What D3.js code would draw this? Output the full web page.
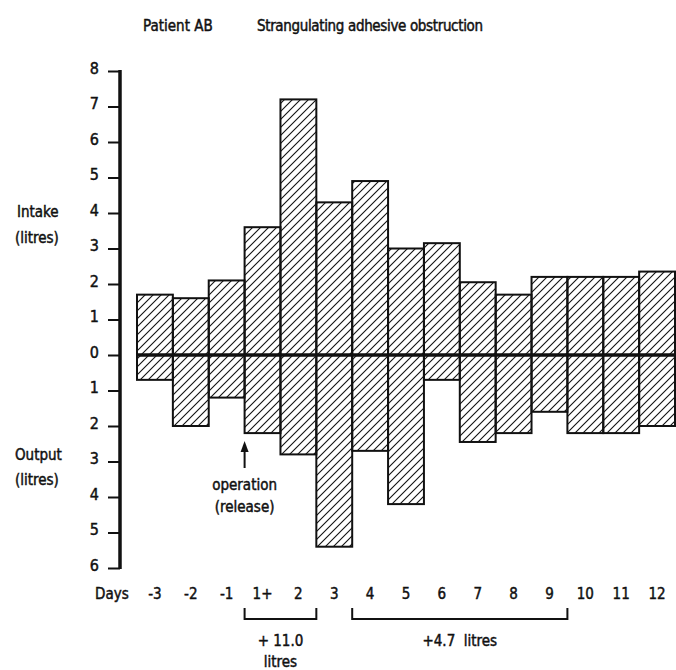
<!DOCTYPE html>
<html>
<head>
<meta charset="utf-8">
<script src="https://cdn.jsdelivr.net/npm/d3@7"></script>
<style>
  body { margin: 0; background: #fff; }
  svg text { font-family: "DejaVu Sans Condensed", "Liberation Sans Narrow", sans-serif; font-size: 15px; fill: #111; stroke: #111; stroke-width: 0.45px; }
</style>
</head>
<body>
<svg id="chart" width="676" height="670"></svg>
<script>
const days = ["-3", "-2", "-1", "1+", "2", "3", "4", "5", "6", "7", "8", "9", "10", "11", "12"];
const intake = [1.7, 1.6, 2.1, 3.6, 7.2, 4.3, 4.9, 3.0, 3.15, 2.05, 1.7, 2.2, 2.2, 2.2, 2.35];
const output = [0.7, 2.0, 1.2, 2.2, 2.8, 5.4, 2.7, 4.2, 0.7, 2.45, 2.2, 1.6, 2.2, 2.2, 2.0];
const yTicks = [-6, -5, -4, -3, -2, -1, 0, 1, 2, 3, 4, 5, 6, 7, 8];
const balances = [
  { from: "1+", to: "2", lines: ["+ 11.0", "litres"] },
  { from: "4", to: "9", lines: ["+4.7  litres"] }
];

const svg = d3.select("#chart");

const x = d3.scaleBand()
  .domain(days)
  .range([137, 675])
  .padding(0);

const y = d3.scaleLinear()
  .domain([-6, 8])
  .range([568, 71]);

// hatch pattern
const pat = svg.append("defs").append("pattern")
  .attr("id", "hatch")
  .attr("patternUnits", "userSpaceOnUse")
  .attr("width", 8)
  .attr("height", 8);
pat.append("path")
  .attr("d", "M-2,2 L2,-2 M0,8 L8,0 M6,10 L10,6")
  .attr("stroke", "#111")
  .attr("stroke-width", 1.1);

// intake bars
svg.selectAll(".intake")
  .data(days)
  .enter()
  .append("rect")
  .attr("class", "intake")
  .attr("x", d => x(d))
  .attr("y", (d, i) => y(intake[i]))
  .attr("width", x.bandwidth())
  .attr("height", (d, i) => y(0) - y(intake[i]))
  .attr("fill", "url(#hatch)")
  .attr("stroke", "#111")
  .attr("stroke-width", 2);

// output bars
svg.selectAll(".output")
  .data(days)
  .enter()
  .append("rect")
  .attr("class", "output")
  .attr("x", d => x(d))
  .attr("y", y(0))
  .attr("width", x.bandwidth())
  .attr("height", (d, i) => y(-output[i]) - y(0))
  .attr("fill", "url(#hatch)")
  .attr("stroke", "#111")
  .attr("stroke-width", 2);

// zero line
svg.append("line")
  .attr("x1", x.range()[0])
  .attr("x2", x.range()[1])
  .attr("y1", y(0))
  .attr("y2", y(0))
  .attr("stroke", "#111")
  .attr("stroke-width", 3.5);

// y axis
const yAxis = svg.append("g")
  .attr("transform", "translate(120,0)")
  .call(d3.axisLeft(y)
    .tickValues(yTicks)
    .tickFormat(d => Math.abs(d))
    .tickSize(12)
    .tickPadding(9));
yAxis.select(".domain").remove();
yAxis.selectAll(".tick line").attr("stroke", "#111").attr("stroke-width", 2);
yAxis.selectAll(".tick text")
  .style("font-size", "16px")
  .attr("dy", "0.15em")
  .attr("font-family", null);
yAxis.append("line")
  .attr("x1", 0).attr("x2", 0)
  .attr("y1", y(8) - 1).attr("y2", y(-6) + 1)
  .attr("stroke", "#111")
  .attr("stroke-width", 3.5);

// day labels
svg.selectAll(".day")
  .data(days)
  .enter()
  .append("text")
  .attr("class", "day")
  .attr("x", d => x(d) + x.bandwidth() / 2)
  .attr("y", 599)
  .attr("text-anchor", "middle")
  .text(d => d);

svg.append("text")
  .attr("x", 95)
  .attr("y", 599)
  .text("Days");

// title
svg.append("text").attr("x", 143).attr("y", 31).text("Patient AB");
svg.append("text").attr("x", 257).attr("y", 31).attr("textLength", 226).text("Strangulating adhesive obstruction");

// side labels
svg.append("text").attr("x", 17).attr("y", 217).text("Intake");
svg.append("text").attr("x", 15).attr("y", 243).text("(litres)");
svg.append("text").attr("x", 15).attr("y", 460).text("Output");
svg.append("text").attr("x", 15).attr("y", 485).text("(litres)");

// operation arrow
const opX = x("1+");
svg.append("line")
  .attr("x1", opX).attr("x2", opX)
  .attr("y1", 450).attr("y2", 468)
  .attr("stroke", "#111")
  .attr("stroke-width", 2);
svg.append("path")
  .attr("d", `M${opX - 4},452 L${opX},441 L${opX + 4},452 Z`)
  .attr("fill", "#111");
svg.append("text").attr("x", opX).attr("y", 490).attr("text-anchor", "middle").text("operation");
svg.append("text").attr("x", opX).attr("y", 512).attr("text-anchor", "middle").text("(release)");

// balance brackets
balances.forEach(b => {
  const x1 = x(b.from);
  const x2 = x(b.to) + x.bandwidth();
  svg.append("path")
    .attr("d", `M${x1},608 L${x1},619 L${x2},619 L${x2},608`)
    .attr("fill", "none")
    .attr("stroke", "#111")
    .attr("stroke-width", 2);
  b.lines.forEach((t, i) => {
    svg.append("text")
      .attr("x", (x1 + x2) / 2)
      .attr("y", 646 + i * 21)
      .attr("text-anchor", "middle")
      .style("white-space", "pre")
      .text(t);
  });
});
</script>
</body>
</html>
